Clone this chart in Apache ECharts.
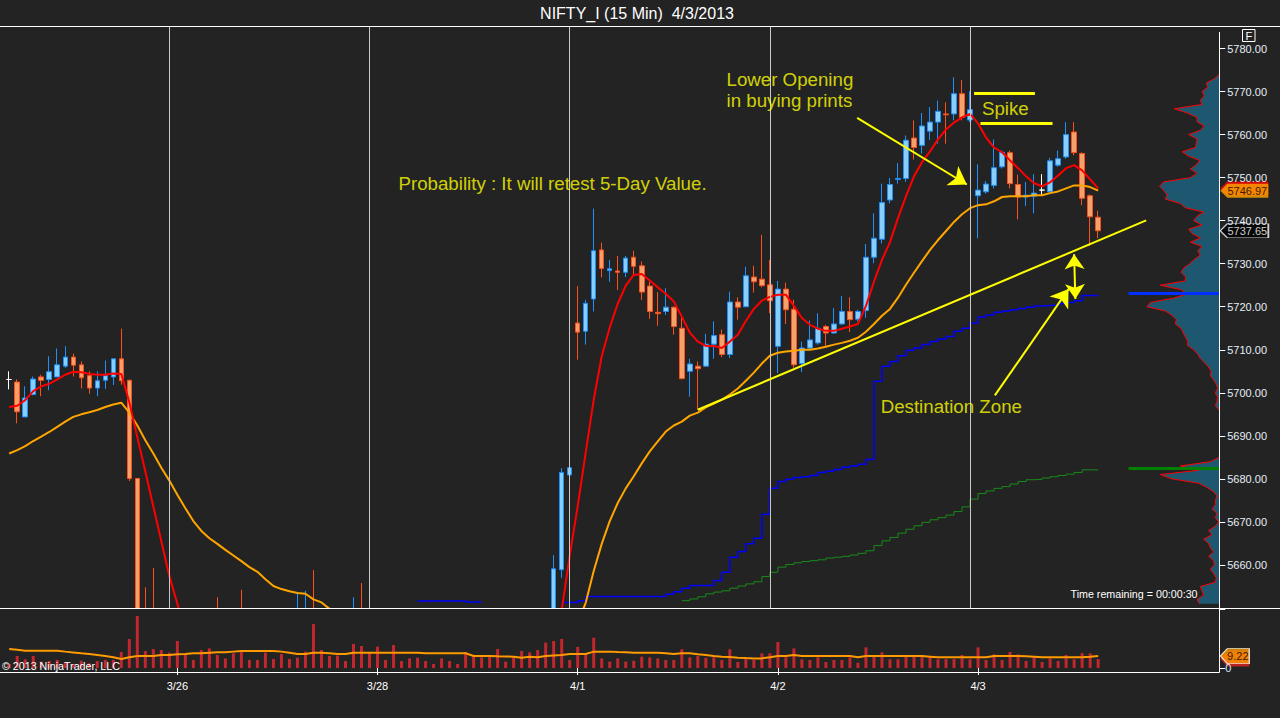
<!DOCTYPE html>
<html>
<head>
<meta charset="utf-8">
<title>NIFTY_I (15 Min) 4/3/2013</title>
<script src="https://cdn.jsdelivr.net/npm/echarts@6/dist/echarts.min.js"></script>
<style>
html,body{margin:0;padding:0;background:#232323;overflow:hidden;}
#chart{width:1280px;height:718px;}
</style>
</head>
<body>
<div id="chart"></div>
<script>
// ---------------- DATA ----------------
// 15-minute bars, index 0 = first visible bar on 3/25
const categories = Array.from({length: 151}, (_, i) => 'b' + i);
const dayTickIndex = [21, 46, 71, 96, 121];
const dayTickLabels = ['3/26', '3/28', '4/1', '4/2', '4/3'];
const sessionEndIndex = [20, 45, 70, 95, 120];

const opens = [5703.1,5702.5,5694.4,5699.6,5703.7,5703.1,5703.7,5706.2,5708.3,5706.5,
5704.0,5701.1,5702.9,5703.7,5707.9,5702.9,5680.1,5634,5630,5624,
5632,5626,5620,5624,5618,5626,5632,5625,5628,5626,
5620,5623,5621,5626,5624,5628,5626,5632,5636,5628,
5631,5629,5633,5630,5636,5630,5627,5624,5628,5625,
5629,5626,5630,5628,5632,5629,5631,5628,5633,5630,
5627,5631,5629,5633,5630,5634,5632,5636,5640,5658.9,
5680.9,5716.2,5714.3,5721.8,5733.2,5728.4,5728.3,5728.0,5731.5,5729.5,
5724.8,5718.7,5718.9,5719.9,5715.0,5705.0,5706.2,5706.2,5711.3,5713.5,
5708.9,5721.1,5720.0,5726.9,5726.4,5725.1,5710.8,5724.1,5719.4,5706.8,
5710.4,5711.6,5715.4,5713.9,5716.0,5718.9,5717.1,5719.1,5731.5,5735.7,
5744.8,5749.6,5749.8,5759.2,5757.5,5760.8,5762.9,5764.8,5764.8,5769.5,
5763.4,5745.8,5746.7,5748.2,5752.5,5755.8,5748.4,5745.5,5745.7,5747.1,
5746.7,5752.9,5754.8,5760.6,5755.6,5745.8,5740.8];

const closes = [5703.1,5695.6,5698.8,5703.2,5702.9,5704.9,5706.5,5708.3,5706.4,5703.5,
5701.1,5702.8,5704.0,5707.9,5702.8,5680.1,5632,5628,5624,5630,
5626,5620,5624,5618,5626,5630,5625,5628,5624,5620,
5623,5621,5626,5624,5628,5626,5632,5636,5628,5631,
5629,5633,5630,5636,5630,5627,5624,5628,5625,5629,
5626,5630,5628,5632,5629,5631,5628,5633,5630,5627,
5631,5629,5633,5630,5634,5632,5636,5638,5659.1,5681.5,
5682.6,5714.1,5720.8,5733.0,5728.9,5728.8,5728.0,5731.3,5729.4,5723.4,
5718.9,5718.4,5719.9,5715.4,5703.3,5706.7,5705.6,5711.3,5713.3,5708.9,
5721.1,5719.9,5727.2,5725.8,5724.9,5721.4,5724.1,5719.3,5706.5,5710.4,
5712.3,5715.0,5713.9,5716.0,5718.9,5717.0,5718.9,5731.5,5735.9,5744.2,
5748.4,5749.8,5758.7,5757.0,5762.0,5762.9,5765.4,5764.6,5769.5,5764.0,
5765.8,5747.1,5748.5,5752.3,5755.9,5748.6,5745.5,5745.9,5746.4,5747.1,
5753.9,5754.4,5760.0,5755.8,5745.2,5740.9,5737.65];

const lows = [5700.8,5692.9,5694.4,5699.4,5699.2,5700.6,5703.7,5705.8,5703.8,5701.0,
5699.8,5699.2,5700.9,5701.8,5701.9,5679.5,5625,5620,5615,5616,
5620,5610,5612,5610,5614,5620,5618,5619,5616,5612,
5614,5615,5617,5618,5620,5621,5622,5626,5622,5622,
5624,5625,5625,5627,5625,5622,5618,5620,5619,5621,
5620,5622,5622,5624,5623,5624,5622,5625,5624,5621,
5623,5622,5625,5624,5627,5626,5629,5631,5635,5657,
5677.6,5707.7,5711.2,5718.9,5726.8,5725.8,5723.9,5726.9,5727.4,5721.6,
5717.2,5715.6,5718.1,5713.5,5703.1,5699.1,5696.1,5706.0,5707.9,5708.3,
5708.1,5717.0,5720.0,5723.3,5724.5,5718.5,5704.6,5716.0,5705.8,5704.8,
5710.0,5711.2,5710.8,5713.7,5715.8,5714.1,5716.6,5717.4,5730.1,5734.7,
5744.0,5748.6,5749.0,5754.2,5755.6,5758.7,5757.9,5757.9,5763.3,5763.3,
5762.9,5735.9,5746.3,5747.5,5752.1,5747.5,5740.3,5743.4,5741.7,5745.9,
5746.3,5752.5,5754.4,5755.2,5743.6,5734.1,5735.9];

const highs = [5705.0,5703.1,5701.5,5703.8,5704.2,5708.5,5710.3,5710.8,5709.1,5707.3,
5705.0,5705.0,5707.5,5707.9,5714.9,5703.1,5680.2,5654.8,5659.3,5642,
5654.0,5640,5635,5632,5638,5644,5652.5,5640,5642,5654.2,
5638,5636,5640,5638,5642,5640,5653.7,5654.0,5658.8,5644,
5640,5645,5642,5652.5,5655.8,5642,5640,5638,5636,5640,
5637,5641,5639,5643,5640,5642,5639,5644,5641,5638,
5642,5640,5644,5641,5645,5643,5646,5646,5662.3,5682.5,
5684.5,5724.8,5721.6,5742.8,5734.9,5730.9,5731.8,5731.8,5733.0,5730.5,
5725.8,5723.4,5724.3,5720.0,5717.7,5707.9,5707.3,5713.7,5716.6,5714.7,
5723.5,5722.2,5729.3,5729.5,5736.7,5730.9,5726.0,5725.6,5721.6,5711.9,
5716.8,5718.5,5715.8,5719.7,5722.5,5722.2,5719.3,5734.6,5741.7,5748.6,
5749.9,5753.4,5759.8,5763.3,5765.0,5766.4,5767.9,5767.5,5773.3,5772.7,
5770.1,5753.1,5749.2,5758.9,5756.3,5756.3,5750.7,5749.0,5750.8,5750.8,
5754.6,5756.3,5762.9,5762.9,5755.9,5746.1,5742.3];

const fastMA = [5696.7,5697.0,5698.3,5700.4,5701.5,5702.1,5703.1,5704.2,5704.9,5704.8,
5704.4,5704.2,5704.2,5704.5,5704.4,5697.8,5689.7,5681.7,5673.6,5665.5,
5657.4,5651.0,5644,5638,5634,5631,5629,5628,5627,5626,
5625,5625,5624,5625,5626,5627,5628,5629,5630,5630,
5630,5631,5631,5632,5632,5631,5630,5629,5628,5628,
5628,5628,5629,5629,5629,5630,5630,5630,5630,5631,
5631,5631,5632,5632,5632,5633,5634,5636,5642,5649.5,
5662.1,5673.7,5686.1,5698.4,5708.5,5715.2,5720.7,5724.9,5727.4,5727.6,
5726.1,5724.5,5723.0,5721.2,5717.7,5714.0,5711.9,5710.9,5710.9,5710.4,
5711.9,5713.5,5716.7,5719.5,5721.4,5722.3,5722.8,5722.8,5720.2,5717.4,
5715.8,5714.9,5714.4,5714.4,5714.9,5715.4,5716.0,5720.2,5725.8,5730.9,
5735.0,5740.6,5745.7,5750.3,5753.6,5756.1,5758.9,5761.2,5762.8,5764.0,
5764.8,5762.6,5759.3,5757.0,5755.9,5754.0,5752.2,5750.3,5748.7,5748.0,
5748.9,5750.5,5752.2,5752.9,5751.7,5749.6,5747.5];

const slowMA = [5685.9,5686.7,5687.6,5688.8,5689.8,5690.9,5692.1,5693.3,5694.4,5695.0,
5695.5,5696.0,5696.7,5697.3,5697.7,5695.4,5692.4,5689.0,5685.9,5682.6,
5679.6,5676.3,5673.2,5670.2,5667.9,5666.2,5664.9,5663.5,5662.2,5660.9,
5659.5,5658.4,5656.7,5655.1,5654.4,5653.9,5653.5,5653.3,5652.0,5651.3,
5649.8,5648.5,5647.3,5646.2,5645.2,5644.3,5643.5,5642.7,5642.0,5641.4,
5640.8,5640.3,5639.8,5639.4,5639.0,5638.6,5638.3,5638.0,5637.8,5637.6,
5637.4,5637.3,5637.2,5637.1,5637.1,5637.1,5637.2,5637.5,5638.2,5640.5,
5643.0,5646.5,5651.2,5658.6,5664.9,5670.2,5674.4,5677.8,5680.6,5683.6,
5686.4,5688.7,5691.0,5692.4,5693.3,5694.7,5695.4,5696.6,5697.5,5698.4,
5699.6,5701.0,5702.8,5704.7,5706.8,5708.6,5709.3,5709.6,5709.8,5710.0,
5710.0,5710.3,5710.7,5711.2,5711.6,5712.1,5712.8,5714.2,5716.0,5717.9,
5719.5,5722.1,5725.1,5727.9,5730.6,5733.2,5735.5,5737.6,5739.7,5741.5,
5742.9,5743.6,5743.8,5744.5,5745.5,5745.7,5745.7,5745.7,5745.9,5745.9,
5746.4,5746.8,5747.5,5748.2,5748.2,5747.8,5746.97];

const blueStep = [null,null,null,null,null,null,null,null,null,null,
null,null,null,null,null,null,null,null,null,null,
null,null,null,null,null,null,null,null,null,null,
null,null,null,null,null,null,null,null,null,null,
null,null,null,null,null,null,null,null,null,null,
null,5651.6,5651.6,5651.6,5651.6,5651.6,5651.6,5651.4,5651.4,null,
null,null,null,null,null,null,null,null,null,5651.3,
5651.3,5651.7,5652.7,5652.7,5652.7,5652.7,5652.7,5652.7,5652.7,5652.7,
5652.7,5652.7,5653.2,5653.8,5654.6,5655.2,5655.2,5655.2,5656.4,5658.3,
5661.8,5663.1,5664.9,5666.2,5671.8,5677.8,5679.4,5679.9,5680.3,5680.5,
5680.8,5681.5,5681.8,5682.2,5682.7,5683.0,5683.4,5684.5,5702.7,5706.2,
5707.3,5708.6,5709.9,5710.4,5711.2,5711.9,5712.5,5713.1,5714.3,5715.0,
5716.2,5717.6,5718.1,5718.7,5719.0,5719.3,5719.6,5719.9,5720.2,5720.3,
5720.4,5720.7,5721.0,5721.4,5722.6,5722.6,null];

const greenStep = [null,null,null,null,null,null,null,null,null,null,
null,null,null,null,null,null,null,null,null,null,
null,null,null,null,null,null,null,null,null,null,
null,null,null,null,null,null,null,null,null,null,
null,null,null,null,null,null,null,null,null,null,
null,null,null,null,null,null,null,null,null,null,
null,null,null,null,null,null,null,null,null,null,
null,null,null,null,null,null,null,null,null,null,
null,null,null,null,5651.7,5652.1,5652.6,5653.3,5653.7,5654.0,
5654.6,5655.1,5655.6,5656.1,5657.3,5658.3,5659.5,5660.1,5660.5,5660.8,
5661.0,5661.2,5661.6,5661.8,5662.0,5662.3,5662.7,5663.3,5664.5,5665.6,
5666.4,5667.4,5668.3,5669.1,5669.9,5670.5,5671.0,5671.6,5672.4,5673.5,
5675.3,5676.6,5677.2,5677.8,5678.2,5678.8,5679.4,5679.8,5679.9,5680.2,
5680.5,5680.8,5681.1,5681.5,5682.1,5682.1,null];

const volumes = [3.0,9.2,6.7,9.2,4.9,5.4,6.2,4.1,3.1,5.6,
3.6,5.4,6.2,6.2,12.3,22.3,40.0,13.1,14.6,13.8,
11.8,20.8,10.0,6.2,13.8,15.1,10.0,7.4,11.3,12.6,
6.2,6.2,11.8,6.9,10.8,6.9,7.9,12.6,33.8,13.8,
9.2,9.5,5.4,18.5,16.9,11.8,16.4,6.2,17.7,5.4,
7.4,7.9,5.4,3.1,7.4,5.4,3.1,12.3,8.7,8.2,
9.5,14.6,4.9,8.2,13.1,12.1,13.8,19.5,20.8,22.3,
6.2,16.2,10.0,23.3,7.4,4.9,7.4,4.9,5.6,8.7,
8.2,7.4,6.2,6.2,14.4,8.2,9.2,7.9,8.2,6.2,
14.4,4.6,7.4,6.2,11.3,11.3,20.0,8.2,15.1,6.7,
6.2,8.2,4.6,6.2,6.2,8.2,4.1,15.9,9.2,12.1,
6.7,6.7,9.5,9.2,8.7,8.2,6.7,6.9,6.9,10.0,
6.7,15.9,6.2,10.5,6.2,12.3,10.5,5.4,8.2,4.6,
7.4,5.4,10.0,6.7,11.5,11.3,6.9];

const volumeMA = [14.6,14.0,13.3,13.3,13.3,13.3,13.3,12.6,12.0,11.3,
10.8,10.0,9.2,8.2,6.9,8.2,9.2,9.2,9.2,10.0,
10.0,10.5,10.8,11.3,11.3,11.8,12.1,12.1,12.6,13.1,
13.1,13.1,13.1,13.1,12.6,11.8,10.8,10.8,11.8,11.8,
11.3,10.8,10.8,11.8,11.8,11.8,11.8,11.8,11.8,11.8,
11.8,11.8,11.3,11.3,11.3,11.3,11.3,11.3,9.2,9.2,
9.2,9.0,8.9,8.7,7.9,8.7,8.2,9.2,9.6,10.0,
10.8,10.8,10.8,12.6,12.6,12.6,12.3,12.1,11.8,11.8,
11.8,11.8,11.3,10.8,11.3,11.3,10.5,10.0,9.2,8.7,
8.4,7.9,7.6,7.4,7.4,8.2,9.2,9.2,10.0,9.2,
9.2,9.2,9.2,9.2,9.2,9.2,8.2,9.2,9.2,9.2,
9.2,9.2,9.2,9.2,9.2,8.7,8.2,8.2,8.2,8.2,
8.2,8.2,8.2,9.2,9.2,9.2,9.2,9.0,8.7,8.2,
8.2,8.2,8.2,8.2,8.2,8.7,9.22];

// volume-at-price profile, price levels 5650 .. 5785 (step 1)
const profileLevels = Array.from({length: 136}, (_, k) => String(5650 + k));
const profileVolume = [null,20,22.3,15.7,17.3,19,4,3,5.7,9,
5,5.7,10.7,5.7,9,10.7,15.7,7.3,10.7,4,
0.7,4,2.3,7.3,4,4,2.3,5.7,12.3,20.7,
47.3,59,20.7,39,9,0,null,null,null,null,
null,null,null,null,null,null,0,4,2.3,1.7,
4,1.7,3,5.7,9,8.3,10.7,15,19,21.7,
25.7,31.7,31.7,34,36.3,38.3,44,43,47.3,54,
72.3,69,45.7,31.7,39,59,34,34,38.3,35.7,
29.7,25,19,21.7,17.3,29,19,27.3,30.7,17.3,
25.7,22.3,15.7,34,39,54,52.3,55.7,59.7,55.7,
29,22.3,29,23,19.7,30.7,37.3,24,23,22.3,
30.7,19,15,22.3,22.3,32,45,17.3,19,15,
17.3,11.7,13,4.7,0,null,null,null,null,null,
null,null,null,null,null,null];
const profileHighValue = 5723.1;   // blue level line
const profileLowValue = 5682.4;    // green level line

const priceTicks = [5660,5670,5680,5690,5700,5710,5720,5730,5740,5750,5760,5770,5780];

// ---------------- LAYOUT / STYLE ----------------
const FONT = '"Liberation Sans", Arial, Helvetica, sans-serif';
const BG = '#232323';
const BAR = 8.007;
const SLOTS = categories.length;
const LEFT = 5.2, TOP = 27, MAIN_H = 581, VOL_TOP = 609, VOL_H = 59;
const MAIN_W = SLOTS * BAR;
const AXIS_X = 1219.3;
const FULL_W = AXIS_X - LEFT;
const ANNO_MAX = -0.5 + FULL_W / BAR;
const Y_MIN = 5650, Y_MAX = 5785, VOL_MAX = 45.4;
const YELLOW = '#ffff00';

const last = closes.length - 1;
const candleData = opens.map((o, i) => [o, closes[i], lows[i], highs[i]]);
const isDayTick = (idx) => dayTickIndex.indexOf(idx) >= 0;

const sepMark = () => ({
  silent: true, symbol: ['none', 'none'], label: {show: false}, animation: false,
  lineStyle: {color: '#c8c8c8', width: 1, type: 'solid', opacity: 1},
  emphasis: {disabled: true},
  data: sessionEndIndex.map(i => ({xAxis: categories[i]}))
});

const tagPath = (w, h) => 'path://M0,' + (h / 2) + 'L7,0L' + w + ',0L' + w + ',' + h + 'L7,' + h + 'Z';

const chart = echarts.init(document.getElementById('chart'), null, {renderer: 'svg', width: 1280, height: 718});

const gridBase = {outerBoundsMode: 'none', containLabel: false, show: false};

const option = {
  backgroundColor: BG,
  animation: false,
  textStyle: {fontFamily: FONT},
  grid: [
    Object.assign({left: LEFT, top: TOP, width: MAIN_W, height: MAIN_H}, gridBase),
    Object.assign({left: LEFT, top: VOL_TOP, width: MAIN_W, height: VOL_H}, gridBase),
    Object.assign({left: LEFT, top: TOP, width: FULL_W, height: MAIN_H}, gridBase),
    Object.assign({left: LEFT, top: TOP, width: FULL_W, height: MAIN_H}, gridBase),
    Object.assign({left: LEFT, top: VOL_TOP, width: FULL_W, height: VOL_H}, gridBase)
  ],
  xAxis: [
    {type: 'category', gridIndex: 0, data: categories, boundaryGap: true,
     axisLine: {show: false}, axisTick: {show: false}, axisLabel: {show: false}, splitLine: {show: false}},
    {type: 'category', gridIndex: 1, data: categories, boundaryGap: true, offset: 4, z: 20,
     axisLine: {show: false},
     axisTick: {show: true, alignWithLabel: true, length: 7, interval: (i) => isDayTick(i), lineStyle: {color: '#ffffff', width: 1}},
     axisLabel: {show: true, interval: (i) => isDayTick(i), margin: 8, color: '#ffffff', fontSize: 11, fontFamily: FONT,
       formatter: (v, i) => { const k = dayTickIndex.indexOf(i); return k >= 0 ? dayTickLabels[k] : ''; }},
     splitLine: {show: false}},
    {type: 'value', gridIndex: 2, min: -0.5, max: ANNO_MAX, show: false},
    {type: 'value', gridIndex: 3, min: 0, max: FULL_W, inverse: true, show: false},
    {type: 'value', gridIndex: 4, min: -0.5, max: ANNO_MAX, show: false}
  ],
  yAxis: [
    {type: 'value', gridIndex: 0, position: 'right', offset: 5, min: Y_MIN, max: Y_MAX, interval: 10, z: 20,
     axisLine: {show: false},
     axisTick: {show: true, length: 6, lineStyle: {color: '#ffffff'}},
     axisLabel: {show: true, margin: 8, color: '#e6eef6', fontSize: 11, fontFamily: FONT, showMaxLabel: false,
       formatter: (v) => priceTicks.indexOf(Math.round(v)) >= 0 && Math.abs(v - Math.round(v)) < 1e-6 ? v.toFixed(2) : ''},
     splitLine: {show: false}},
    {type: 'value', gridIndex: 1, position: 'right', offset: 5, min: 0, max: VOL_MAX, interval: VOL_MAX, z: 20,
     axisLine: {show: false},
     axisTick: {show: true, length: 6, lineStyle: {color: '#ffffff'}},
     axisLabel: {show: true, margin: 6, color: '#cfe6ff', fontSize: 11, fontFamily: FONT,
       formatter: (v) => v === 0 ? '0' : ''},
     splitLine: {show: false}},
    {type: 'value', gridIndex: 2, min: Y_MIN, max: Y_MAX, show: false},
    {type: 'category', gridIndex: 3, data: profileLevels, boundaryGap: false, show: false},
    {type: 'value', gridIndex: 4, min: 0, max: VOL_MAX, show: false}
  ],
  series: [
    // volume profile (behind everything)
    {type: 'line', name: 'profile', xAxisIndex: 3, yAxisIndex: 3, data: profileVolume, symbol: 'none',
     connectNulls: false, z: 1, silent: true,
     lineStyle: {color: '#ff0000', width: 1},
     areaStyle: {color: '#1d5870', opacity: 1}},
    // price candles
    {type: 'candlestick', name: 'price', xAxisIndex: 0, yAxisIndex: 0, data: candleData, barWidth: 5, z: 3,
     clip: true,
     itemStyle: {color: '#87cefa', color0: '#f6a06a', borderColor: '#1e90ff', borderColor0: '#ff4f1a',
       borderColorDoji: '#ffffff', borderWidth: 1},
     markLine: sepMark()},
    {type: 'line', name: 'blue', xAxisIndex: 0, yAxisIndex: 0, data: blueStep, step: 'end', symbol: 'none',
     connectNulls: false, z: 2, lineStyle: {color: '#0000ff', width: 1.5}},
    {type: 'line', name: 'green', xAxisIndex: 0, yAxisIndex: 0, data: greenStep, step: 'end', symbol: 'none',
     connectNulls: false, z: 2, lineStyle: {color: '#1a8a1a', width: 1}},
    {type: 'line', name: 'slow', xAxisIndex: 0, yAxisIndex: 0, data: slowMA, symbol: 'none', z: 4,
     lineStyle: {color: '#ffa500', width: 2}},
    {type: 'line', name: 'fast', xAxisIndex: 0, yAxisIndex: 0, data: fastMA, symbol: 'none', z: 4,
     lineStyle: {color: '#ff0000', width: 2}},
    // volume
    {type: 'bar', name: 'volume', xAxisIndex: 1, yAxisIndex: 1, data: volumes, barWidth: 3, z: 12,
     itemStyle: {color: '#c1272d'}, markLine: sepMark()},
    {type: 'line', name: 'volMA', xAxisIndex: 1, yAxisIndex: 1, data: volumeMA, symbol: 'none', z: 13,
     lineStyle: {color: '#ff9a00', width: 2}},
    // profile level lines
    {type: 'lines', coordinateSystem: 'cartesian2d', xAxisIndex: 2, yAxisIndex: 2, z: 5, silent: true,
     data: [
       {coords: [[139.8, profileHighValue], [ANNO_MAX, profileHighValue]], lineStyle: {color: '#0030ff', width: 3, opacity: 1}},
       {coords: [[139.8, profileLowValue], [ANNO_MAX, profileLowValue]], lineStyle: {color: '#008000', width: 3, opacity: 1}}
     ]},
    // drawings: trend line & spike markers
    {type: 'lines', coordinateSystem: 'cartesian2d', xAxisIndex: 2, yAxisIndex: 2, z: 6, silent: true,
     lineStyle: {color: YELLOW, width: 2, opacity: 1},
     data: [
       {coords: [[86, 5696.06], [142, 5740.06]]},
       {coords: [[120.5, 5769.7], [128.1, 5769.7]], lineStyle: {width: 3, color: YELLOW, opacity: 1}},
       {coords: [[121.3, 5762.6], [130.3, 5762.6]], lineStyle: {width: 3, color: YELLOW, opacity: 1}}
     ]},
    // arrows
    {type: 'lines', coordinateSystem: 'cartesian2d', xAxisIndex: 2, yAxisIndex: 2, z: 6, silent: true,
     symbol: ['none', 'arrow'], symbolSize: 17,
     lineStyle: {color: YELLOW, width: 2, opacity: 1},
     data: [
       {coords: [[105.9, 5763.9], [119.6, 5748.4]]},
       {coords: [[123.1, 5699.4], [132.3, 5724.1]]}
     ]},
    {type: 'lines', coordinateSystem: 'cartesian2d', xAxisIndex: 2, yAxisIndex: 2, z: 6, silent: true,
     symbol: ['arrow', 'arrow'], symbolSize: 15,
     lineStyle: {color: YELLOW, width: 2, opacity: 1},
     data: [{coords: [[133.15, 5721.8], [133.0, 5732.2]]}]},
    // annotation texts
    {type: 'scatter', xAxisIndex: 2, yAxisIndex: 2, z: 7, silent: true, clip: false, symbolSize: 1,
     itemStyle: {color: 'rgba(0,0,0,0)'},
     label: {show: true, position: [0, 0], align: 'left', verticalAlign: 'middle', color: YELLOW,
       fontSize: 18.7, fontFamily: FONT, lineHeight: 21, formatter: (p) => p.data.text},
     data: [
       {value: [89.65, 5770.2], text: 'Lower Opening\nin buying prints'},
       {value: [121.55, 5765.9], text: 'Spike'},
       {value: [48.68, 5748.6], text: 'Probability : It will retest 5-Day Value.'},
       {value: [108.9, 5696.8], text: 'Destination Zone'}
     ]},
    // price tags on the axis (behind)
    {type: 'scatter', xAxisIndex: 2, yAxisIndex: 2, z: 8, silent: true, clip: false,
     data: [
       {value: [ANNO_MAX, fastMA[last]], symbol: tagPath(48, 14), symbolSize: [48, 14], symbolOffset: [25, 0],
        itemStyle: {color: '#ff0000'}, label: {show: false}}
     ]},
    {type: 'scatter', xAxisIndex: 2, yAxisIndex: 2, z: 9, silent: true, clip: false,
     label: {show: true, position: 'inside', offset: [3, 0], fontSize: 11, fontFamily: FONT,
       formatter: (p) => p.value[1].toFixed(2)},
     data: [
       {value: [ANNO_MAX, slowMA[last]], symbol: tagPath(48, 14), symbolSize: [48, 14], symbolOffset: [25, 0],
        itemStyle: {color: '#ffa500', borderColor: '#ffa500', borderWidth: 0}, label: {color: '#000000'}},
       {value: [ANNO_MAX, closes[last]], symbol: tagPath(48, 14), symbolSize: [48, 14], symbolOffset: [25, 0],
        itemStyle: {color: '#000000', borderColor: '#ffffff', borderWidth: 1}, label: {color: '#ffffff'}}
     ]},
    {type: 'scatter', xAxisIndex: 4, yAxisIndex: 4, z: 18, silent: true, clip: false,
     data: [
       {value: [ANNO_MAX, volumes[last]], symbol: tagPath(29, 15), symbolSize: [29, 15], symbolOffset: [15.5, 0],
        itemStyle: {color: '#e02020'}, label: {show: false}}
     ]},
    {type: 'scatter', xAxisIndex: 4, yAxisIndex: 4, z: 19, silent: true, clip: false,
     label: {show: true, position: 'inside', offset: [3, 0], fontSize: 11, fontFamily: FONT, color: '#000000',
       formatter: (p) => p.value[1].toFixed(2)},
     data: [
       {value: [ANNO_MAX, volumeMA[last]], symbol: tagPath(29, 15), symbolSize: [29, 15], symbolOffset: [15.5, 0],
        itemStyle: {color: '#ff9a00', borderColor: '#ffffff', borderWidth: 1}}
     ]}
  ],
  graphic: [
    // backdrop for the volume pane: hides the parts of price bars that run below the price pane
    {type: 'rect', z: 10, silent: true, shape: {x: 0, y: 608.5, width: 1280, height: 110}, style: {fill: BG}},
    {type: 'text', x: 637, y: 13.5, z: 100, silent: true,
     style: {text: 'NIFTY_I (15 Min)  4/3/2013', fill: '#ffffff', fontSize: 16, fontFamily: FONT, align: 'center', verticalAlign: 'middle'}},
    {type: 'line', z: 100, silent: true, shape: {x1: 0, y1: 26.5, x2: 1280, y2: 26.5}, style: {stroke: '#ffffff', lineWidth: 1}},
    {type: 'line', z: 100, silent: true, shape: {x1: 0, y1: 608.5, x2: 1280, y2: 608.5}, style: {stroke: '#ffffff', lineWidth: 1}},
    {type: 'line', z: 100, silent: true, shape: {x1: 0, y1: 672.5, x2: 1219.5, y2: 672.5}, style: {stroke: '#ffffff', lineWidth: 1}},
    {type: 'line', z: 100, silent: true, shape: {x1: 1219.5, y1: 32, x2: 1219.5, y2: 672.5}, style: {stroke: '#ffffff', lineWidth: 1}},
    {type: 'rect', z: 100, silent: true, shape: {x: 1242.5, y: 29.5, width: 12.5, height: 12}, style: {fill: 'none', stroke: '#ffffff', lineWidth: 1}},
    {type: 'text', x: 1248.8, y: 35.8, z: 100, silent: true,
     style: {text: 'F', fill: '#ffffff', fontSize: 11, fontFamily: FONT, align: 'center', verticalAlign: 'middle'}},
    {type: 'text', x: 1070.5, y: 593.5, z: 100, silent: true,
     style: {text: 'Time remaining = 00:00:30', fill: '#ffffff', fontSize: 10.7, fontFamily: FONT, align: 'left', verticalAlign: 'middle'}},
    {type: 'text', x: 2, y: 665.5, z: 100, silent: true,
     style: {text: '\u00a9 2013 NinjaTrader, LLC', fill: '#ffffff', fontSize: 10.7, fontFamily: FONT, align: 'left', verticalAlign: 'middle'}}
  ]
};
chart.setOption(option);
</script>
</body>
</html>
